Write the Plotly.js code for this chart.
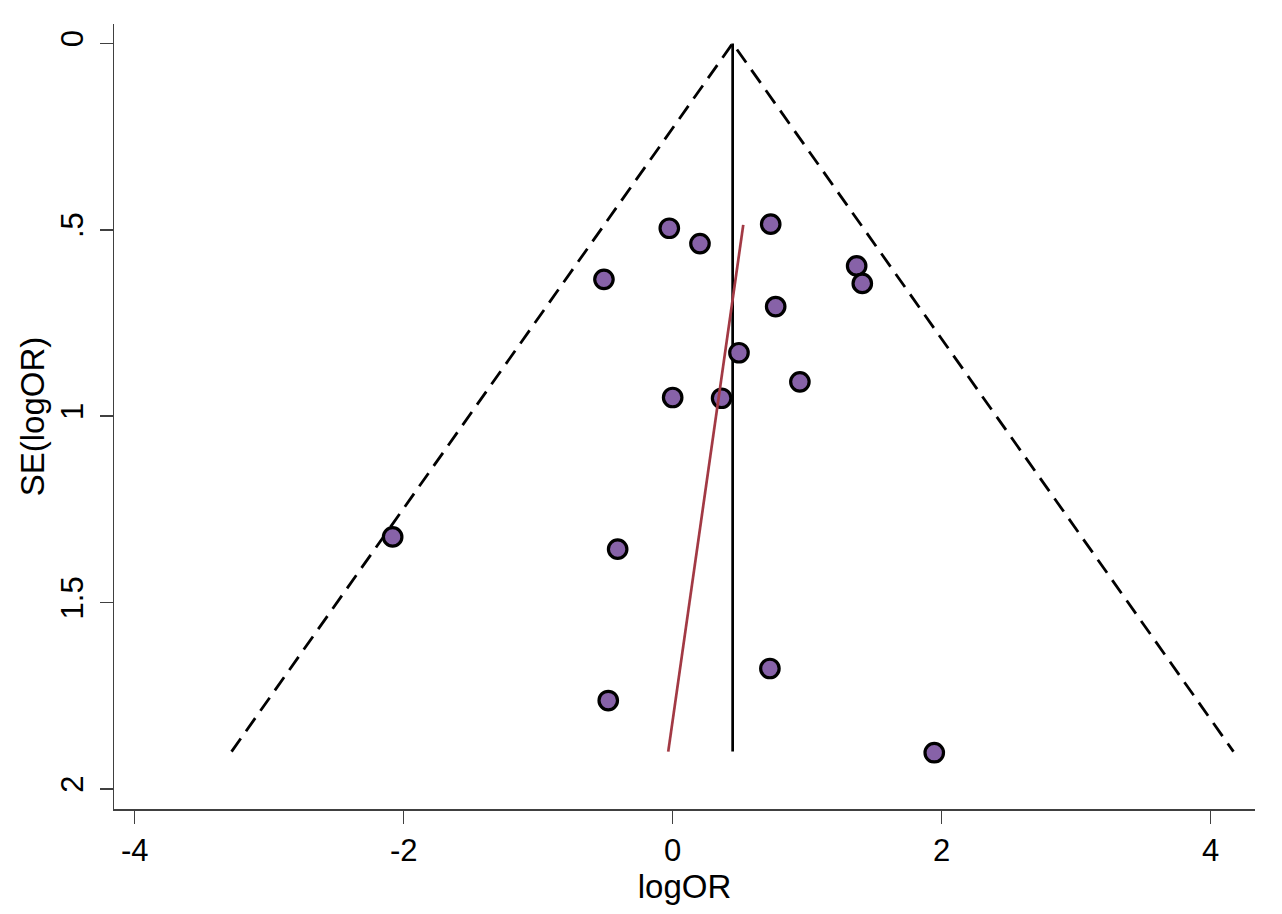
<!DOCTYPE html>
<html>
<head>
<meta charset="utf-8">
<script src="https://cdn.plot.ly/plotly-3.0.1.min.js"></script>
<style>html,body{margin:0;padding:0;background:#fff;}#chart{width:1282px;height:914px;}</style>
</head>
<body>
<div id="chart"></div>
<script>
// Study estimates
const logOR   = [-0.025, 0.203, -0.511, 0.729, 1.368, 1.410, 0.766, 0.493, 0.946, 0.000, 0.364, -2.082, -0.409, 0.723, -0.479, 1.945];
const seLogOR = [0.496, 0.537, 0.633, 0.485, 0.597, 0.644, 0.706, 0.830, 0.908, 0.950, 0.952, 1.324, 1.357, 1.677, 1.763, 1.903];

// Pseudo-95% confidence limits (funnel) and pooled estimate
const funnelX = [-3.28, 0.446, 4.17];
const funnelY = [1.90, 0.0, 1.90];
const pooledX = [0.446, 0.446];
const pooledY = [0.0, 1.90];

// Regression (Egger) line
const eggerX = [-0.033, 0.525];
const eggerY = [1.90, 0.487];

// Axis ticks
const xTicks = [-4, -2, 0, 2, 4];
const xTickText = ["-4", "-2", "0", "2", "4"];
const yTicks = [0, 0.5, 1, 1.5, 2];
const yTickText = ["0", ".5", "1", "1.5", "2"];

const traces = [
  {x: funnelX, y: funnelY, type: 'scatter', mode: 'lines',
   line: {color: '#000', width: 2.8, dash: '16px,9px'}, hoverinfo: 'skip'},
  {x: pooledX, y: pooledY, type: 'scatter', mode: 'lines',
   line: {color: '#000', width: 2.7}, hoverinfo: 'skip'},
  {x: logOR, y: seLogOR, type: 'scatter', mode: 'markers',
   marker: {size: 18.5, color: '#8762a8', line: {color: '#000', width: 3.2}}},
  {x: eggerX, y: eggerY, type: 'scatter', mode: 'lines',
   line: {color: '#a23944', width: 2.7}, hoverinfo: 'skip'}
];

const fam = 'Liberation Sans, Arial, sans-serif';
const tickFont = {family: fam, size: 31, color: '#000'};
const titleFont = {family: fam, size: 33, color: '#000'};

const layout = {
  width: 1282, height: 914,
  margin: {l: 114, r: 27, t: 24, b: 105},
  paper_bgcolor: '#fff', plot_bgcolor: '#fff',
  showlegend: false,
  xaxis: {
    range: [-4.154, 4.33],
    tickvals: xTicks, ticktext: xTickText,
    ticks: 'outside', ticklen: 13, tickwidth: 1.5, tickcolor: '#404040',
    showline: true, linecolor: '#404040', linewidth: 1.5,
    showgrid: false, zeroline: false,
    tickfont: tickFont,
    title: {text: 'logOR', font: titleFont, standoff: 0}
  },
  yaxis: {
    range: [2.054, -0.052],
    tickvals: yTicks, ticktext: yTickText,
    tickangle: -90,
    ticklabelstandoff: 4,
    ticks: 'outside', ticklen: 13, tickwidth: 1.5, tickcolor: '#404040',
    showline: true, linecolor: '#404040', linewidth: 1.5,
    showgrid: false, zeroline: false,
    tickfont: tickFont,
    title: {text: 'SE(logOR)', font: titleFont, standoff: 0}
  }
};

Plotly.newPlot('chart', traces, layout, {displayModeBar: false, staticPlot: true});
</script>
</body>
</html>
